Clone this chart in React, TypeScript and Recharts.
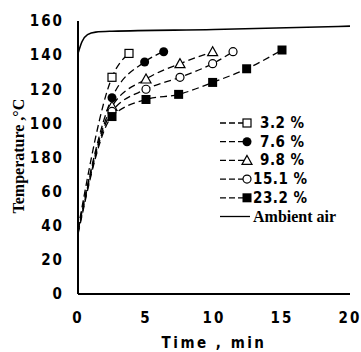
import React from 'react';
import { LineChart, Line, XAxis, YAxis } from 'recharts';

// Moisture content series: [time min, temperature °C]
const s32 = [
  { t: 0, v: 38 },
  { t: 2.5, v: 127 },
  { t: 3.75, v: 141 },
];
const s76 = [
  { t: 0, v: 38 },
  { t: 2.5, v: 115 },
  { t: 4.9, v: 136 },
  { t: 6.3, v: 142 },
];
const s98 = [
  { t: 0, v: 37 },
  { t: 2.5, v: 110 },
  { t: 5, v: 126 },
  { t: 7.5, v: 135 },
  { t: 9.9, v: 142 },
];
const s151 = [
  { t: 0, v: 36 },
  { t: 2.5, v: 107 },
  { t: 5, v: 120 },
  { t: 7.5, v: 127 },
  { t: 9.9, v: 135 },
  { t: 11.4, v: 142 },
];
const s232 = [
  { t: 0, v: 35 },
  { t: 2.5, v: 104 },
  { t: 5, v: 114 },
  { t: 7.4, v: 117 },
  { t: 9.9, v: 124 },
  { t: 12.4, v: 132 },
  { t: 15, v: 143 },
];
const ambient = [
  { t: 0, v: 141 },
  { t: 0.3, v: 148 },
  { t: 0.7, v: 152 },
  { t: 1.3, v: 153.5 },
  { t: 2.5, v: 154 },
  { t: 10, v: 155 },
  { t: 20, v: 157 },
];

const xTicks = [0, 5, 10, 15, 20];
const yTicks = [0, 20, 40, 60, 80, 100, 120, 140, 160];
const yTickLabels = ['0', '20', '40', '60', '180', '100', '120', '140', '160'];

const legendRows = [
  { marker: 'osq', label: '3.2 %' },
  { marker: 'fci', label: '7.6 %' },
  { marker: 'otr', label: '9.8 %' },
  { marker: 'oci', label: '15.1 %' },
  { marker: 'fsq', label: '23.2 %' },
  { marker: 'none', label: 'Ambient air' },
];

const numFont = "'DejaVu Sans Condensed', 'DejaVu Sans', sans-serif";
const serif = "'Liberation Serif', serif";

const Marker = ({ kind, cx, cy }: { kind: string; cx: number; cy: number }) => {
  if (kind === 'osq')
    return <rect x={cx - 4} y={cy - 4} width={8} height={8} fill="#fff" stroke="#000" strokeWidth={1.2} />;
  if (kind === 'fsq')
    return <rect x={cx - 4.5} y={cy - 4.5} width={9} height={9} fill="#000" />;
  if (kind === 'fci') return <circle cx={cx} cy={cy} r={4.5} fill="#000" />;
  if (kind === 'oci') return <circle cx={cx} cy={cy} r={4} fill="#fff" stroke="#000" strokeWidth={1.2} />;
  if (kind === 'otr')
    return (
      <polygon
        points={`${cx},${cy - 5} ${cx - 5},${cy + 4} ${cx + 5},${cy + 4}`}
        fill="#fff"
        stroke="#000"
        strokeWidth={1.2}
      />
    );
  return null;
};

const dotFor = (kind: string) => (props: any) => {
  const { cx, cy, index } = props;
  if (index === 0) return <g key={`d${index}`} />;
  return (
    <g key={`d${index}`}>
      <Marker kind={kind} cx={cx} cy={cy} />
    </g>
  );
};

const LegendBox = () => (
  <svg width={140} height={110} style={{ position: 'absolute', left: 218, top: 115 }}>
    {legendRows.map((r, i) => {
      const y = 8 + i * 18.7;
      const isAmb = r.marker === 'none';
      return (
        <g key={r.label}>
          <line
            x1={2}
            x2={isAmb ? 32 : 27}
            y1={y}
            y2={y}
            stroke="#000"
            strokeWidth={1.3}
            strokeDasharray={isAmb ? undefined : '6 3'}
          />
          <Marker kind={r.marker} cx={29} cy={y} />
          <text
            x={isAmb ? 35 : i === 3 || i === 4 ? 35 : 42}
            y={y + 5}
            fontFamily={isAmb ? serif : numFont}
            fontWeight="bold"
            fontSize={isAmb ? 16 : 15}
            letterSpacing={isAmb ? 0 : 0.5}
          >
            {r.label}
          </text>
        </g>
      );
    })}
  </svg>
);

export default function App() {
  const dash = '7 4';
  return (
    <div style={{ position: 'absolute', left: 0, top: 0, width: 361, height: 352, background: '#fff' }}>
      <LineChart width={361} height={352} margin={{ top: 21, right: 11, left: 0, bottom: 0 }}>
        <XAxis
          type="number"
          dataKey="t"
          domain={[0, 20]}
          ticks={xTicks}
          allowDataOverflow
          axisLine={{ stroke: '#000', strokeWidth: 2 }}
          tickLine={false}
          tickMargin={12}
          height={58}
          tick={{ fill: '#000', fontFamily: numFont, fontWeight: 'bold', fontSize: 15, letterSpacing: 2 }}
          label={{
            value: 'Time , min',
            position: 'insideBottom',
            offset: 4,
            fill: '#000',
            fontFamily: numFont,
            fontWeight: 'bold',
            fontSize: 15,
            letterSpacing: 2.5,
          }}
        />
        <YAxis
          type="number"
          domain={[0, 160]}
          ticks={yTicks}
          width={78}
          axisLine={{ stroke: '#000', strokeWidth: 2 }}
          tickLine={false}
          tickMargin={8}
          tickFormatter={(v: number) => yTickLabels[yTicks.indexOf(v)]}
          tick={{ fill: '#000', fontFamily: numFont, fontWeight: 'bold', fontSize: 15, letterSpacing: 2 }}
          label={{
            value: 'Temperature ,°C',
            angle: -90,
            position: 'insideLeft',
            offset: 18,
            dy: 56,
            fill: '#000',
            fontFamily: serif,
            fontWeight: 'bold',
            fontSize: 16,
          }}
        />
        <Line data={ambient} dataKey="v" type="monotone" stroke="#000" strokeWidth={1.6} dot={false} isAnimationActive={false} />
        <Line data={s32} dataKey="v" type="monotone" stroke="#000" strokeWidth={1.3} strokeDasharray={dash} dot={dotFor('osq')} isAnimationActive={false} />
        <Line data={s76} dataKey="v" type="monotone" stroke="#000" strokeWidth={1.3} strokeDasharray={dash} dot={dotFor('fci')} isAnimationActive={false} />
        <Line data={s98} dataKey="v" type="monotone" stroke="#000" strokeWidth={1.3} strokeDasharray={dash} dot={dotFor('otr')} isAnimationActive={false} />
        <Line data={s151} dataKey="v" type="monotone" stroke="#000" strokeWidth={1.3} strokeDasharray={dash} dot={dotFor('oci')} isAnimationActive={false} />
        <Line data={s232} dataKey="v" type="monotone" stroke="#000" strokeWidth={1.3} strokeDasharray={dash} dot={dotFor('fsq')} isAnimationActive={false} />
      </LineChart>
      <LegendBox />
    </div>
  );
}
